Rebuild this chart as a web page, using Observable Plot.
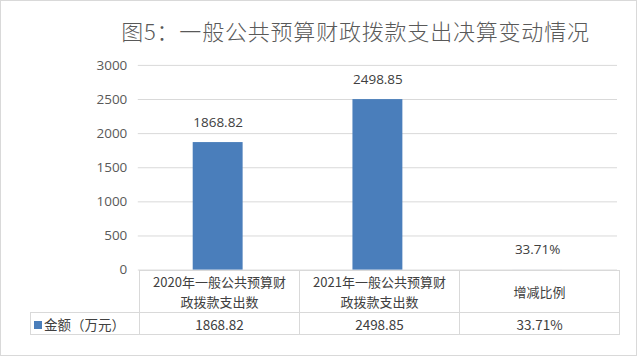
<!DOCTYPE html>
<html><head><meta charset="utf-8">
<script src="https://cdn.jsdelivr.net/npm/d3@7"></script>
<script src="https://cdn.jsdelivr.net/npm/@observablehq/plot@0.6"></script>
<style>
html,body{margin:0;padding:0;background:#fff;}
#wrap{position:relative;width:635px;height:354px;border:1px solid #d9d9d9;background:#fff;font-family:"Noto Sans CJK SC","Noto Sans",sans-serif;color:#595959;overflow:hidden;}
#title{position:absolute;left:0;width:100%;top:13px;text-align:center;font-size:22px;font-weight:300;color:#595959;padding-left:74px;box-sizing:border-box;letter-spacing:0.8px;}
#plot{position:absolute;left:-1px;top:-1px;}
table{position:absolute;border-collapse:collapse;left:29px;top:269px;font-size:13.5px;color:#404040;table-layout:fixed;}
td{border:1px solid #d9d9d9;text-align:center;padding:0;line-height:18px;}
td.hdr{font-size:13px;line-height:19.5px;}
td.blank{border:none;}
</style></head>
<body>
<div id="wrap">
<div id="plot"></div>
<div id="title"></div>
<table id="tbl"></table>
</div>
<script>
const title = "图5：一般公共预算财政拨款支出决算变动情况";
const categories = ["2020年一般公共预算财政拨款支出数", "2021年一般公共预算财政拨款支出数", "增减比例"];
const headerLines = [["2020年一般公共预算财", "政拨款支出数"], ["2021年一般公共预算财", "政拨款支出数"], ["增减比例"]];
const values = [1868.82, 2498.85, 0.3371];
const valueLabels = ["1868.82", "2498.85", "33.71%"];
const seriesName = "金额（万元）";
const yTicks = [0, 500, 1000, 1500, 2000, 2500, 3000];
const barColor = "#4a7ebb";

document.getElementById("title").textContent = title;

const data = categories.map((c, i) => ({cat: c, v: values[i], label: valueLabels[i]}));

const chart = Plot.plot({
  width: 637, height: 356,
  marginLeft: 138, marginRight: 19, marginTop: 65, marginBottom: 86,
  style: {fontFamily: "'Open Sans','Noto Sans',sans-serif", fontSize: "13px", color: "#595959", background: "transparent"},
  x: {domain: categories, padding: 0, axis: null},
  y: {domain: [0, 3000], ticks: yTicks, tickSize: 0, tickPadding: 11, label: null, grid: false},
  marks: [
    Plot.gridY(yTicks, {stroke: "#d9d9d9", strokeOpacity: 1}),
    Plot.barY(data, {x: "cat", y: "v", fill: barColor, insetLeft: 55, insetRight: 55}),
    Plot.text(data, {x: "cat", y: "v", text: "label", dy: -20, fill: "#404040", fontSize: 13.5}),
    Plot.axisY(yTicks, {tickSize: 0, tickPadding: 11, tickFormat: d3.format("d"), fill: "#595959", fontSize: 13.5, label: null})
  ]
});
document.getElementById("plot").appendChild(chart);

// data table under the plot
const tbl = document.getElementById("tbl");
const colgroup = document.createElement("colgroup");
[109, 160, 160, 160].forEach(w => { const c = document.createElement("col"); c.style.width = w + "px"; colgroup.appendChild(c); });
tbl.appendChild(colgroup);
const tr1 = document.createElement("tr");
tr1.style.height = "42px";
const b = document.createElement("td"); b.className = "blank"; tr1.appendChild(b);
headerLines.forEach(lines => {
  const td = document.createElement("td");
  td.className = "hdr";
  td.innerHTML = lines.map(l => `<div>${l}</div>`).join("");
  tr1.appendChild(td);
});
tbl.appendChild(tr1);
const tr2 = document.createElement("tr");
tr2.style.height = "22px";
const lab = document.createElement("td");
lab.style.textAlign = "left";
lab.style.paddingLeft = "3px";
lab.innerHTML = `<span style="display:inline-block;width:8px;height:8px;background:${barColor};margin-right:2px;vertical-align:1px"></span>` + seriesName;
tr2.appendChild(lab);
valueLabels.forEach(v => { const td = document.createElement("td"); td.textContent = v; tr2.appendChild(td); });
tbl.appendChild(tr2);
</script>
</body></html>
